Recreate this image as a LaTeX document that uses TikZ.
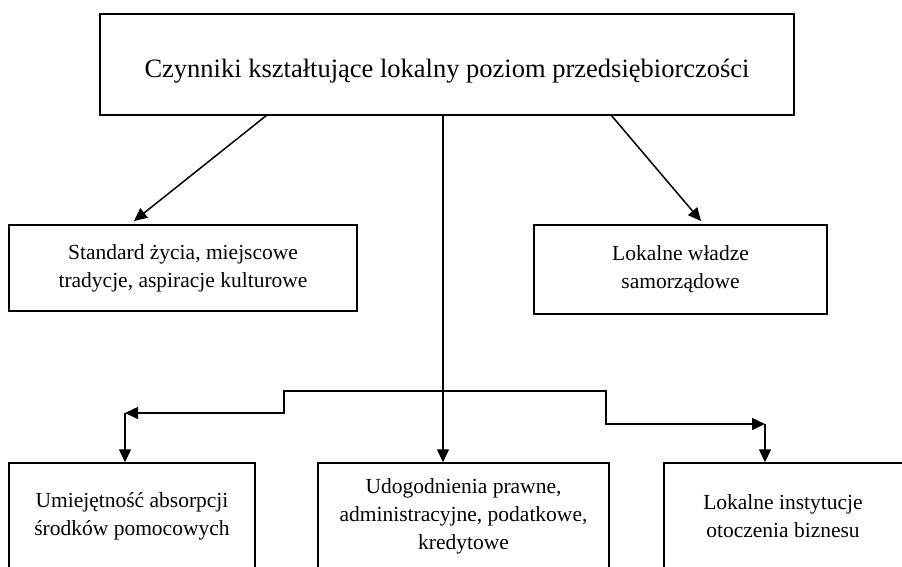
\documentclass[tikz,border=0pt]{standalone}
\usepackage{fontspec}
\setmainfont{Liberation Serif}
\usetikzlibrary{arrows.meta}
\begin{document}
\begin{tikzpicture}[x=1pt,y=-1pt,
  box/.style={draw,line width=1.5pt,inner sep=0pt,align=center},
  conn/.style={line width=1.5pt},
  arr/.style={conn,-{Triangle[length=13pt,width=12pt]}},
  small/.style={font=\fontsize{21.5}{28}\selectfont},
  big/.style={font=\fontsize{26.5}{30}\selectfont}]
\clip (0,0) rectangle (902,566);
\useasboundingbox (0,0) rectangle (902,566);
\fill[white] (0,0) rectangle (902,566);
% boxes
\node[box,big,minimum width=694,minimum height=101] (top) at (447,64.5) {\rule{0pt}{32pt}Czynniki kształtujące lokalny poziom przedsiębiorczości};
\node[box,small,minimum width=348,minimum height=86] (ml) at (183,268) {Standard życia, miejscowe\\tradycje, aspiracje kulturowe};
\node[box,small,minimum width=293,minimum height=89] (mr) at (680.5,269.5) {Lokalne władze\\samorządowe};
\node[box,small,minimum width=246,minimum height=106] (bl) at (132,516) {Umiejętność absorpcji\\środków pomocowych};
\node[box,small,minimum width=291,minimum height=106] (bm) at (463.5,516) {Udogodnienia prawne,\\administracyjne, podatkowe,\\kredytowe};
\node[box,small,minimum width=246,minimum height=106] (br) at (787,516) {\hspace*{-8pt}Lokalne instytucje\\\hspace*{-8pt}otoczenia biznesu};
% connector points
\coordinate (t0) at (443,115);
\coordinate (t1) at (267,115);
\coordinate (t2) at (611,115);
\coordinate (e1) at (134,221);
\coordinate (e2) at (701,221);
\coordinate (j) at (443,391);
\coordinate (s1) at (284,413);
\coordinate (c1) at (125,413);
\coordinate (s2) at (606,424);
\coordinate (c2) at (765,424);
% connectors
\draw[arr] (t1) -- (e1);
\draw[arr] (t2) -- (e2);
\draw[arr] (t0) -- (t0 |- bm.north);
\draw[arr] (j) -| (s1) -- (c1);
\draw[arr] (c1) -- (c1 |- bl.north);
\draw[arr] (j) -| (s2) -- (c2);
\draw[arr] (c2) -- (c2 |- br.north);
\end{tikzpicture}
\end{document}
